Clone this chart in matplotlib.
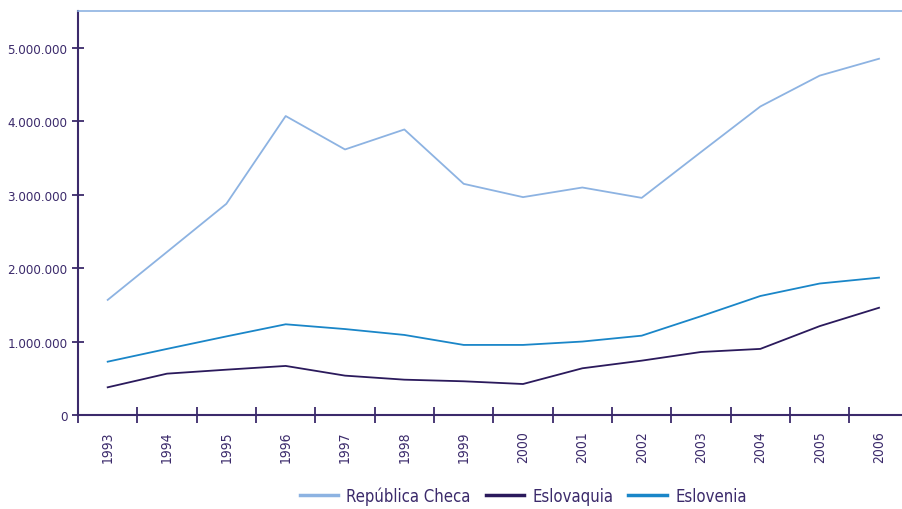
import numpy as np
import matplotlib.pyplot as plt
from matplotlib.lines import Line2D

years = ['1993', '1994', '1995', '1996', '1997', '1998', '1999',
         '2000', '2001', '2002', '2003', '2004', '2005', '2006']
checa = [1567000, 2220000, 2875000, 4070000, 3615000, 3887000, 3147000,
         2966000, 3097000, 2956000, 3580000, 4200000, 4620000, 4850000]
eslovaquia = [377000, 563000, 617000, 668000, 536000, 481000, 459000,
              422000, 636000, 740000, 858000, 900000, 1210000, 1460000]
eslovenia = [726000, 900000, 1070000, 1235000, 1170000, 1090000, 954000,
             954000, 1000000, 1080000, 1345000, 1620000, 1790000, 1870000]
yticks = [0, 1000000, 2000000, 3000000, 4000000, 5000000]

c_checa = '#8db3e2'
c_eslovaquia = '#2b1a5c'
c_eslovenia = '#1a86c8'
c_axis = '#3b2a6b'

plt.rcParams['font.family'] = ['DejaVu Sans']
plt.rcParams['font.stretch'] = 'condensed'

fig = plt.figure(figsize=(9.02, 5.10), dpi=100)
ax = fig.add_axes([0.0865, 0.1843, 0.9209, 0.7922])

x = np.arange(len(years))
ax.plot(x, checa, color=c_checa, lw=1.3)
ax.plot(x, eslovaquia, color=c_eslovaquia, lw=1.3)
ax.plot(x, eslovenia, color=c_eslovenia, lw=1.3)

ax.set_xlim(-0.5, len(years) - 0.5)
ax.set_ylim(0, 5500000)

# year labels sit between the boundary ticks
ax.set_xticks(x)
ax.set_xticklabels(years, rotation=90)
ax.set_xticks(np.arange(-0.5, len(years), 1.0), minor=True)
ax.tick_params(axis='x', which='major', length=0, pad=11, labelsize=10, labelcolor=c_axis)
ax.tick_params(axis='x', which='minor', direction='inout', length=11, width=1.3, color=c_axis)

ax.set_yticks(yticks)
ax.set_yticklabels(['{:,}'.format(v).replace(',', '.') for v in yticks])
ax.tick_params(axis='y', direction='inout', length=9, width=1.3, color=c_axis,
               pad=3, labelsize=9.5, labelcolor=c_axis)

for s in ['left', 'bottom']:
    ax.spines[s].set_color(c_axis)
    ax.spines[s].set_linewidth(1.5)
ax.spines['top'].set_color(c_checa)
ax.spines['top'].set_linewidth(1.2)
ax.spines['right'].set_visible(False)

handles = [Line2D([], [], color=c_checa, lw=2.5),
           Line2D([], [], color=c_eslovaquia, lw=2.5),
           Line2D([], [], color=c_eslovenia, lw=2.5)]
fig.legend(handles, ['República Checa', 'Eslovaquia', 'Eslovenia'],
           loc='center', bbox_to_anchor=(0.58, 0.0255), ncol=3, frameon=False,
           fontsize=12, labelcolor=c_axis, handlelength=2.3, handletextpad=0.5,
           columnspacing=0.9, borderpad=0)

fig.savefig('out.png', dpi=100)
